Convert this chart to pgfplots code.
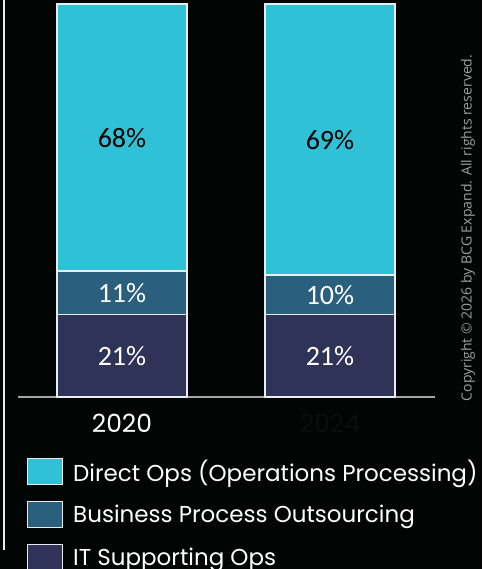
\documentclass[border=0pt]{standalone}
\usepackage{pgfplots}
\pgfplotsset{compat=1.18}
\usepackage{fontspec}
\setmainfont{Carlito}
\newfontfamily\popp{Poppins}
\newfontfamily\osans{Open Sans}
\definecolor{bg}{HTML}{020504}
\definecolor{cDirect}{HTML}{30C1D6}
\definecolor{cBPO}{HTML}{2A5F7E}
\definecolor{cIT}{HTML}{2F3358}
\definecolor{edge}{HTML}{E8EEF0}
\definecolor{darktick}{HTML}{0A0F0C}
\begin{document}
\begin{tikzpicture}[x=1pt,y=1pt]
\fill[bg] (0,0) rectangle (482,569);
\clip (0,0) rectangle (482,569);
\draw[white!85!gray, line width=1.5pt] (4,569) -- (4,19);
\begin{axis}[
  at={(18pt,172pt)}, anchor=south west,
  scale only axis, width=417pt, height=393pt,
  ybar stacked, bar width=130pt,
  xmin=-0.5, xmax=1.505, ymin=0, ymax=100,
  axis x line=bottom, axis y line=none,
  x axis line style={-, draw=gray!70, line width=2pt},
  xtick={0,1},
  xticklabels={{\color{white}2020},{\color{darktick}2024}},
  xticklabel style={font=\popp\fontsize{25}{25}\selectfont, yshift=-14pt},
  major tick length=0pt,
  clip=false,
  /pgf/number format/assume math mode=true,
  nodes near coords={\pgfmathprintnumber[fixed,precision=0]{\rawy}\%},
  visualization depends on=rawy \as \rawy,
  every node near coord/.style={anchor=center, font=\fontsize{28}{28}\selectfont, text=white},
  legend style={at={(0.0216,-0.155)}, anchor=north west, draw=none, fill=none, text=white,
    font=\popp\fontsize{23}{23}\selectfont, legend cell align=left, row sep=16pt, inner sep=0pt,
    /tikz/every odd column/.append style={column sep=8pt}},
  legend image code/.code={\draw[#1, draw=edge, line width=1pt] (0pt,-13pt) rectangle (35pt,13pt);},
  reverse legend,
]
\addplot[fill=cIT, draw=edge, line width=1.5pt] coordinates {(0,21) (1,21)};
\addlegendentry{IT Supporting Ops}
\addplot[fill=cBPO, draw=edge, line width=1.5pt] coordinates {(0,11) (1,10)};
\addlegendentry{Business Process Outsourcing}
\addplot[fill=cDirect, draw=edge, line width=1.5pt, every node near coord/.append style={text=black}] coordinates {(0,68) (1,69)};
\addlegendentry{Direct Ops (Operations Processing)}
\end{axis}
\node[rotate=90, text=gray!75, font=\osans\fontsize{14}{14}\selectfont] at (468,341) {Copyright © 2026 by BCG Expand. All rights reserved.};
\end{tikzpicture}
\end{document}
